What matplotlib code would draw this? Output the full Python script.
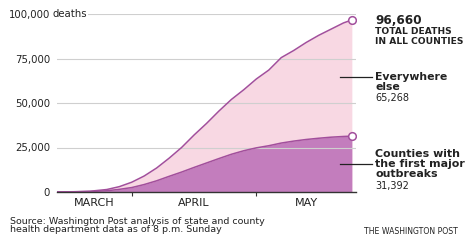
import pandas as pd
import matplotlib
matplotlib.use("Agg")
import matplotlib.pyplot as plt

# ─── data (thousands of deaths, cumulative) ───────────────────────────────────
dates = ["2020-03-14", "2020-03-18", "2020-03-22", "2020-03-26", "2020-03-29",
         "2020-04-01", "2020-04-04", "2020-04-07", "2020-04-10", "2020-04-13",
         "2020-04-16", "2020-04-19", "2020-04-22", "2020-04-25", "2020-04-28",
         "2020-05-01", "2020-05-04", "2020-05-07", "2020-05-10", "2020-05-13",
         "2020-05-16", "2020-05-19", "2020-05-22", "2020-05-24"]
total_k = [0.05, 0.15, 0.45, 1.4, 3.0, 5.5, 9.0, 13.5, 19.0, 25.0,
           32.0, 38.5, 45.5, 52.0, 57.5, 63.5, 68.5, 75.5, 79.5, 84.0,
           88.0, 91.5, 95.0, 96.66]
outbreak_k = [0.03, 0.08, 0.25, 0.7, 1.5, 2.5, 4.2, 6.3, 8.8, 11.2,
              13.8, 16.3, 18.8, 21.2, 23.2, 24.8, 26.0, 27.5, 28.6, 29.5,
              30.2, 30.8, 31.2, 31.392]

y_ticks = [0, 25000, 50000, 75000, 100000]
y_labels = ["0", "25,000", "50,000", "75,000", "100,000"]
months = ["MARCH", "APRIL", "MAY"]
month_centers = ["2020-03-23", "2020-04-16", "2020-05-13"]
month_bounds = ["2020-04-01", "2020-05-01"]

total_final = "96,660"
else_final = "65,268"
outbreak_final = "31,392"

# ─── styling ──────────────────────────────────────────────────────────────────
PINK = "#f8d8e3"
PURPLE = "#c37dbd"
LINE = "#a24f9c"
GRID = "#cfcfcf"
TXT = "#222222"
W, H = 474, 244

plt.rcParams["font.family"] = ["DejaVu Sans"]

x = pd.to_datetime(dates)
total = [v * 1000 for v in total_k]
outbreak = [v * 1000 for v in outbreak_k]

fig = plt.figure(figsize=(W / 100, H / 100), dpi=100)
ax = fig.add_axes([57 / W, 1 - 192 / H, 299 / W, 178 / H])


def px(xp, yp):
    return xp / W, 1 - yp / H


ax.fill_between(x, 0, total, color=PINK, lw=0, zorder=1)
ax.fill_between(x, 0, outbreak, color=PURPLE, lw=0, zorder=2)
ax.plot(x, total, color=LINE, lw=1.1, zorder=4)
ax.plot(x, outbreak, color=LINE, lw=1.1, zorder=4)
ax.plot(x[-1], total[-1], "o", ms=5.5, mfc="white", mec=LINE, mew=1.1, zorder=5)
ax.plot(x[-1], outbreak[-1], "o", ms=5.5, mfc="white", mec=LINE, mew=1.1, zorder=5)

for yt in y_ticks[1:]:
    ax.axhline(yt, color=GRID, lw=0.8, zorder=3)

ax.set_xlim(pd.Timestamp("2020-03-14"), pd.Timestamp("2020-05-25"))
ax.set_ylim(0, 100000)

ax.set_yticks(y_ticks)
ax.set_yticklabels(y_labels)
ax.tick_params(axis="y", length=0, pad=5, labelsize=7.3, labelcolor=TXT)

ax.set_xticks(pd.to_datetime(month_bounds))
ax.set_xticklabels([])
ax.tick_params(axis="x", length=3, width=0.8, color="#333333", direction="out")
for m, c in zip(months, pd.to_datetime(month_centers)):
    ax.text(c, -0.035, m, transform=ax.get_xaxis_transform(), ha="center",
            va="top", fontsize=8, color=TXT)

for s in ["top", "right", "left"]:
    ax.spines[s].set_visible(False)
ax.spines["bottom"].set_color("#333333")
ax.spines["bottom"].set_linewidth(1)
ax.spines["bottom"].set_zorder(6)

# "deaths" after the top tick label, covering the start of the grid line
fig.text(*px(52.5, 14), "deaths", ha="left", va="center", fontsize=7.3,
         color=TXT, bbox=dict(fc="white", ec="none", pad=0.8), zorder=10)

# right-hand annotations
fig.text(*px(375, 20), total_final, fontsize=8.7, fontweight="bold",
         color=TXT, va="center")
fig.text(*px(375, 36.5), "TOTAL DEATHS\nIN ALL COUNTIES", fontsize=6.6,
         fontweight="bold", color=TXT, va="center", linespacing=1.0)

fig.text(*px(375, 82.5), "Everywhere\nelse", fontsize=7.8, fontweight="bold",
         color=TXT, va="center", linespacing=1.0)
fig.text(*px(375, 98), else_final, fontsize=7, color=TXT, va="center")
fig.add_artist(plt.Line2D([340 / W, 372 / W], [1 - 77 / H, 1 - 77 / H],
                          color="#222222", lw=0.9))

fig.text(*px(375, 164), "Counties with\nthe first major\noutbreaks",
         fontsize=7.9, fontweight="bold", color=TXT, va="center",
         linespacing=1.0)
fig.text(*px(375, 186), outbreak_final, fontsize=7, color=TXT, va="center")
fig.add_artist(plt.Line2D([340 / W, 372 / W], [1 - 164 / H, 1 - 164 / H],
                          color="#222222", lw=0.9))

# footer
fig.text(*px(10, 225.5), "Source: Washington Post analysis of state and county\n"
         "health department data as of 8 p.m. Sunday", fontsize=6.8,
         color=TXT, va="center", linespacing=1.0)
fig.text(*px(458, 232), "THE WASHINGTON POST", fontsize=5.6, color=TXT,
         ha="right", va="center")

fig.savefig("out.png", dpi=100)
